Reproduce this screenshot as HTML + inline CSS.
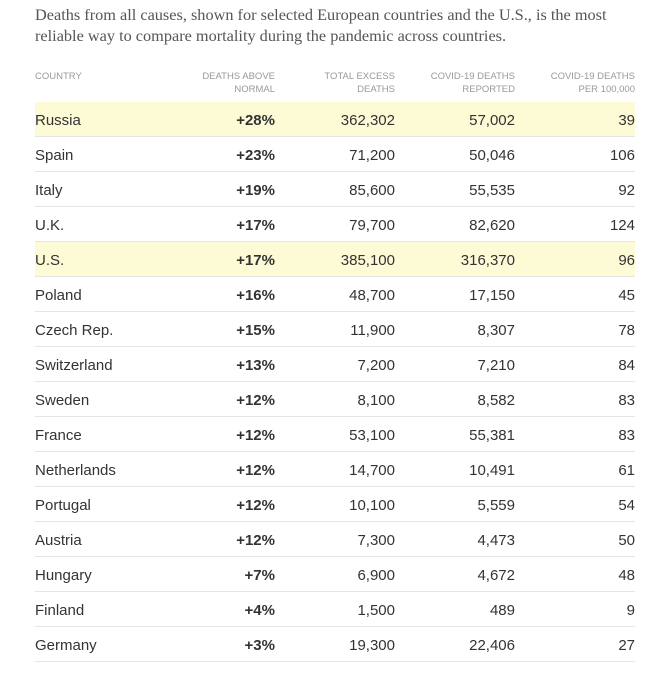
<!DOCTYPE html>
<html><head><style>
body{margin:0;background:#fff;width:666px;height:673px;overflow:hidden;}
.t{position:absolute;left:35px;top:4px;width:590px;font-family:"Liberation Serif",serif;font-size:16.3px;line-height:21px;color:#555;}
.h{position:absolute;top:70px;font-family:"Liberation Sans",sans-serif;font-size:9.5px;line-height:13px;color:#999;text-align:right;width:120px;}
.row{position:absolute;left:35px;width:600px;height:34px;border-bottom:1px solid #e6e6e6;font-family:"Liberation Sans",sans-serif;font-size:15px;color:#333;}
.row.y{background:#fdfad6;}
.row span{position:absolute;top:10px;line-height:18px;}
.c0{left:0}
.c1{right:360px;font-weight:bold}
.c2{right:240px}
.c3{right:120px}
.c4{right:0}
</style></head><body>
<div class="t">Deaths from all causes, shown for selected European countries and the U.S., is the most reliable way to compare mortality during the pandemic across countries.</div>
<div class="h" style="left:35px;text-align:left">COUNTRY</div>
<div class="h" style="left:155px">DEATHS ABOVE<br>NORMAL</div>
<div class="h" style="left:275px">TOTAL EXCESS<br>DEATHS</div>
<div class="h" style="left:395px">COVID-19 DEATHS<br>REPORTED</div>
<div class="h" style="left:515px">COVID-19 DEATHS<br>PER 100,000</div>
<div class="row y" style="top:102px"><span class="c0">Russia</span><span class="c1">+28%</span><span class="c2">362,302</span><span class="c3">57,002</span><span class="c4">39</span></div>
<div class="row" style="top:137px"><span class="c0">Spain</span><span class="c1">+23%</span><span class="c2">71,200</span><span class="c3">50,046</span><span class="c4">106</span></div>
<div class="row" style="top:172px"><span class="c0">Italy</span><span class="c1">+19%</span><span class="c2">85,600</span><span class="c3">55,535</span><span class="c4">92</span></div>
<div class="row" style="top:207px"><span class="c0">U.K.</span><span class="c1">+17%</span><span class="c2">79,700</span><span class="c3">82,620</span><span class="c4">124</span></div>
<div class="row y" style="top:242px"><span class="c0">U.S.</span><span class="c1">+17%</span><span class="c2">385,100</span><span class="c3">316,370</span><span class="c4">96</span></div>
<div class="row" style="top:277px"><span class="c0">Poland</span><span class="c1">+16%</span><span class="c2">48,700</span><span class="c3">17,150</span><span class="c4">45</span></div>
<div class="row" style="top:312px"><span class="c0">Czech Rep.</span><span class="c1">+15%</span><span class="c2">11,900</span><span class="c3">8,307</span><span class="c4">78</span></div>
<div class="row" style="top:347px"><span class="c0">Switzerland</span><span class="c1">+13%</span><span class="c2">7,200</span><span class="c3">7,210</span><span class="c4">84</span></div>
<div class="row" style="top:382px"><span class="c0">Sweden</span><span class="c1">+12%</span><span class="c2">8,100</span><span class="c3">8,582</span><span class="c4">83</span></div>
<div class="row" style="top:417px"><span class="c0">France</span><span class="c1">+12%</span><span class="c2">53,100</span><span class="c3">55,381</span><span class="c4">83</span></div>
<div class="row" style="top:452px"><span class="c0">Netherlands</span><span class="c1">+12%</span><span class="c2">14,700</span><span class="c3">10,491</span><span class="c4">61</span></div>
<div class="row" style="top:487px"><span class="c0">Portugal</span><span class="c1">+12%</span><span class="c2">10,100</span><span class="c3">5,559</span><span class="c4">54</span></div>
<div class="row" style="top:522px"><span class="c0">Austria</span><span class="c1">+12%</span><span class="c2">7,300</span><span class="c3">4,473</span><span class="c4">50</span></div>
<div class="row" style="top:557px"><span class="c0">Hungary</span><span class="c1">+7%</span><span class="c2">6,900</span><span class="c3">4,672</span><span class="c4">48</span></div>
<div class="row" style="top:592px"><span class="c0">Finland</span><span class="c1">+4%</span><span class="c2">1,500</span><span class="c3">489</span><span class="c4">9</span></div>
<div class="row" style="top:627px"><span class="c0">Germany</span><span class="c1">+3%</span><span class="c2">19,300</span><span class="c3">22,406</span><span class="c4">27</span></div>
</body></html>
